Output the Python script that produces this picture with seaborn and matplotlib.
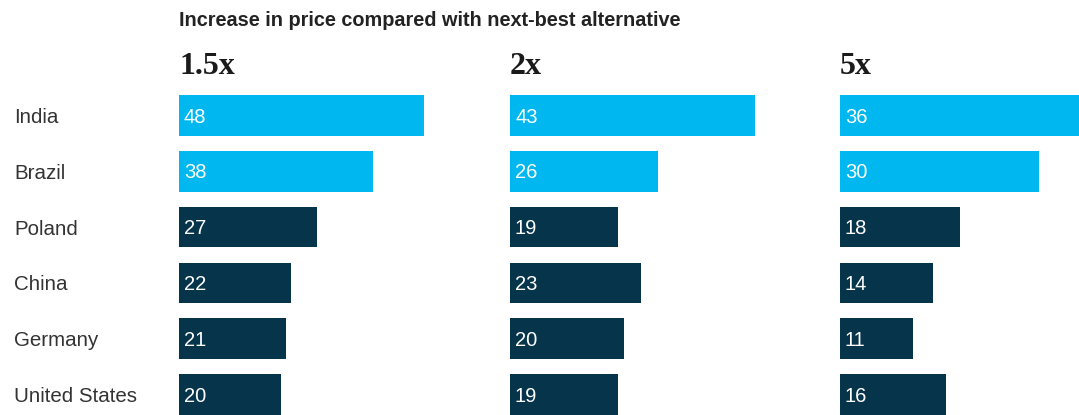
import matplotlib.pyplot as plt
import seaborn as sns
import pandas as pd

countries = ["India", "Brazil", "Poland", "China", "Germany", "United States"]
price_levels = ["1.5x", "2x", "5x"]
share_15x = [48, 38, 27, 22, 21, 20]
share_2x = [43, 26, 19, 23, 20, 19]
share_5x = [36, 30, 18, 14, 11, 16]
highlighted = ["India", "Brazil"]
title = "Increase in price compared with next-best alternative"

LIGHT = "#00B8EF"
DARK = "#06344A"

sns.set_theme(style="white")
plt.rcParams["font.family"] = ["Liberation Sans", "DejaVu Sans"]

W, H = 1079, 415
fig = plt.figure(figsize=(W / 100, H / 100), dpi=100)

panels = [
    (price_levels[0], share_15x, 179, 245),
    (price_levels[1], share_2x, 510, 245),
    (price_levels[2], share_5x, 840, 239),
]

bar_h = 0.73
for k, (level, values, left, width) in enumerate(panels):
    df = pd.DataFrame({"country": countries, "value": values})
    df["group"] = ["hi" if c in highlighted else "lo" for c in df["country"]]
    ax = fig.add_axes([left / W, 0, width / W, 320 / H])
    sns.barplot(data=df, x="value", y="country", hue="group",
                palette={"hi": LIGHT, "lo": DARK}, dodge=False,
                width=bar_h, legend=False, saturation=1, linewidth=0, ax=ax)
    ax.set_xlim(0, max(values))
    ax.set_ylim(len(countries) - 1 + bar_h / 2, -bar_h / 2)
    for i, v in enumerate(values):
        ax.annotate(str(v), xy=(0, i), xytext=(3.6, -1.2), textcoords="offset points",
                    va="center", ha="left", color="white", fontsize=14.5)
    ax.set_xlabel("")
    ax.set_ylabel("")
    ax.set_xticks([])
    sns.despine(ax=ax, left=True, bottom=True)
    if k == 0:
        ax.set_yticks(range(len(countries)))
        ax.set_yticklabels(countries, ha="left", color="#333333", fontsize=14.8)
        ax.tick_params(axis="y", length=0, pad=(left - 14) * 0.72)
    else:
        ax.set_yticks([])
    fig.text(left / W, 1 - 66 / H, level, fontsize=23, fontweight="bold",
             family=["Liberation Serif"], color="#1a1a1a", va="center", ha="left")

fig.text(179 / W, 1 - 20 / H, title, fontsize=14.3, fontweight="bold",
         color="#222222", va="center", ha="left")

fig.savefig("out.png", dpi=100)
